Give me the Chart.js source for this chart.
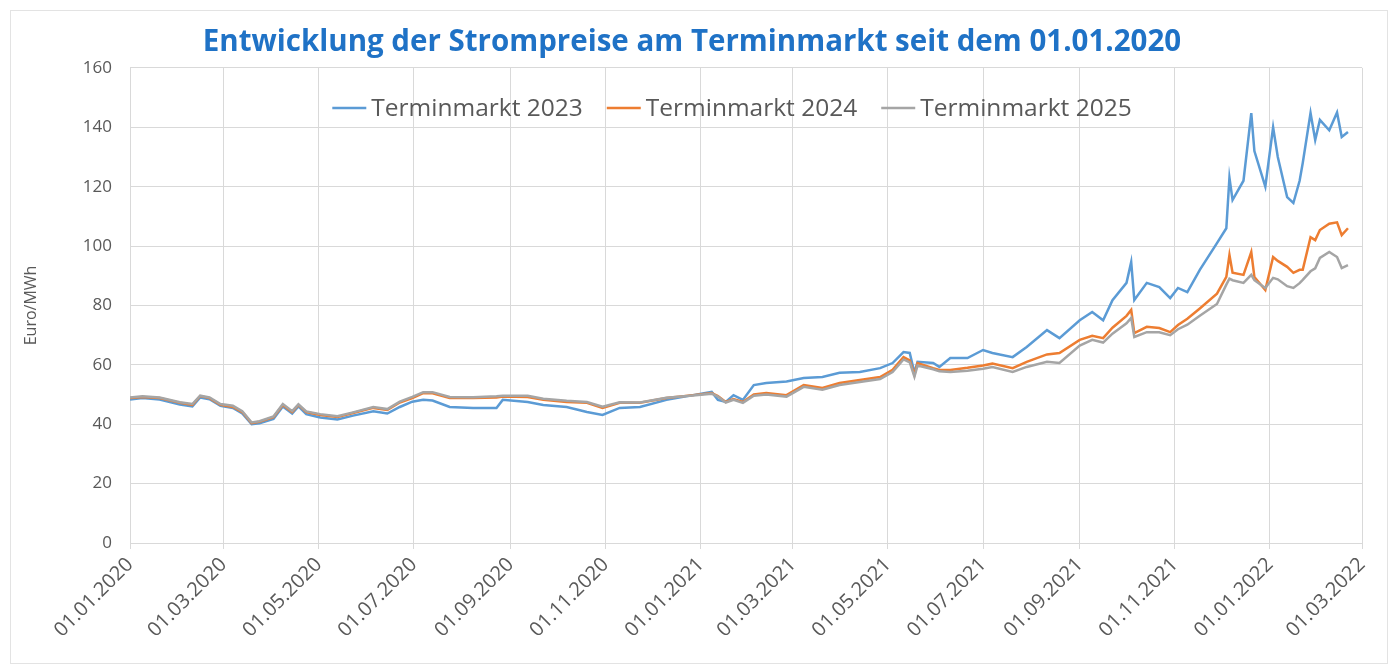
<!DOCTYPE html>
<html lang="de">
<head>
<meta charset="utf-8">
<title>Entwicklung der Strompreise am Terminmarkt</title>
<script src="https://cdn.jsdelivr.net/npm/chart.js@4/dist/chart.umd.min.js"></script>
<style>
  html, body { margin: 0; padding: 0; background: #fff; }
  canvas { display: block; }
</style>
</head>
<body>
<canvas id="chart" width="1398" height="669"></canvas>
<script>
// Handelstage und Preise in Euro/MWh
const dates = [
  '2020-01-01','2020-01-09','2020-01-20','2020-02-02','2020-02-10','2020-02-15','2020-02-21','2020-02-28',
  '2020-03-07','2020-03-13','2020-03-19','2020-03-24','2020-04-02','2020-04-08','2020-04-14','2020-04-18','2020-04-23',
  '2020-05-02','2020-05-13','2020-05-23','2020-06-05','2020-06-14','2020-06-22','2020-06-30',
  '2020-07-07','2020-07-13','2020-07-24','2020-08-08','2020-08-23','2020-08-27','2020-09-12','2020-09-22',
  '2020-10-07','2020-10-20','2020-10-30','2020-11-10','2020-11-23','2020-12-10','2020-12-27',
  '2021-01-08','2021-01-12','2021-01-17','2021-01-22','2021-01-28','2021-02-04','2021-02-12','2021-02-25',
  '2021-03-08','2021-03-20','2021-03-31','2021-04-13','2021-04-26','2021-05-04','2021-05-11','2021-05-15','2021-05-18','2021-05-20','2021-05-30',
  '2021-06-03','2021-06-10','2021-06-21','2021-07-01','2021-07-07','2021-07-20','2021-07-29','2021-08-11','2021-08-19',
  '2021-09-01','2021-09-09','2021-09-16','2021-09-22','2021-10-01','2021-10-04','2021-10-06','2021-10-14','2021-10-22','2021-10-29',
  '2021-11-03','2021-11-09','2021-11-17','2021-11-28','2021-12-04','2021-12-06','2021-12-08','2021-12-15','2021-12-20','2021-12-22','2021-12-29',
  '2022-01-03','2022-01-06','2022-01-12','2022-01-16','2022-01-20','2022-01-22','2022-01-27','2022-01-30','2022-02-02','2022-02-08','2022-02-13','2022-02-16','2022-02-20'
];

const termin2023 = [
  48.3,48.8,48.3,46.6,46.0,49.0,48.4,46.2,
  45.5,43.6,40.0,40.3,41.8,46.0,43.6,46.0,43.4,
  42.3,41.6,42.9,44.4,43.6,45.8,47.6,
  48.2,48.0,45.8,45.5,45.5,48.2,47.5,46.5,
  45.8,44.1,43.1,45.5,45.8,48.2,49.8,
  50.9,48.2,47.5,49.8,48.2,53.2,53.9,54.4,
  55.6,55.9,57.3,57.6,58.9,60.6,64.3,64.0,57.3,61.0,60.6,
  59.3,62.3,62.3,65.0,64.0,62.6,66.0,71.7,69.0,
  75.0,77.8,75.0,81.8,87.6,94.6,81.8,87.6,86.2,82.5,
  85.9,84.5,92.0,101.0,106.0,123.0,115.5,122.0,144.8,132.0,120.0,
  140.0,130.0,116.5,114.5,122.0,128.0,144.8,135.7,142.5,139.0,145.0,136.7,138.4
];

const termin2024 = [
  48.8,49.2,48.8,47.2,46.5,49.5,48.8,46.5,
  45.8,44.1,40.4,40.8,42.4,46.5,44.1,46.5,44.1,
  43.1,42.4,43.8,45.5,44.8,47.3,48.8,
  50.5,50.4,48.8,48.8,49.0,49.3,49.2,48.2,
  47.5,47.2,45.5,47.2,47.2,48.8,49.8,
  50.5,49.5,47.5,48.5,47.5,50.0,50.5,49.8,
  53.2,52.2,53.9,54.9,55.9,58.3,62.6,61.5,56.6,60.6,58.9,
  58.3,58.3,59.0,59.8,60.4,58.9,61.0,63.5,64.0,
  68.4,69.8,69.0,72.5,76.5,78.5,70.7,72.8,72.4,71.0,
  73.4,75.5,79.0,84.0,89.6,97.0,91.0,90.3,98.0,89.6,85.2,
  96.3,95.0,93.0,91.0,92.0,92.0,103.0,102.0,105.4,107.5,108.0,103.7,106.0
];

const termin2025 = [
  49.0,49.4,49.0,47.4,46.8,49.6,49.0,46.8,
  46.2,44.4,40.6,41.0,42.6,46.8,44.4,46.7,44.3,
  43.4,42.7,44.0,45.8,45.1,47.6,49.2,
  50.8,50.8,49.2,49.1,49.4,49.6,49.6,48.6,
  47.9,47.5,45.9,47.4,47.3,48.9,49.7,
  50.3,49.3,47.3,48.2,47.2,49.6,50.0,49.3,
  52.6,51.6,53.2,54.2,55.2,57.6,61.8,60.8,56.0,59.8,58.5,
  57.8,57.6,58.0,58.7,59.3,57.6,59.3,61.0,60.6,
  66.5,68.4,67.5,70.5,74.0,75.8,69.4,71.0,71.0,70.0,
  72.0,73.5,76.5,80.5,87.0,89.0,88.5,87.6,90.3,88.5,85.9,
  89.3,88.8,86.5,85.9,87.5,88.6,91.5,92.5,96.0,98.0,96.3,92.6,93.6
];

// Achsenbeschriftung x: alle zwei Monate
const monthTicks = [
  '2020-01-01','2020-03-01','2020-05-01','2020-07-01','2020-09-01','2020-11-01',
  '2021-01-01','2021-03-01','2021-05-01','2021-07-01','2021-09-01','2021-11-01',
  '2022-01-01','2022-03-01'
];
const yTicks = [0, 20, 40, 60, 80, 100, 120, 140, 160];

const START = Date.UTC(2020, 0, 1);
const dayOf = (s) => {
  const [y, m, d] = s.split('-').map(Number);
  return (Date.UTC(y, m - 1, d) - START) / 86400000;
};
const fmtDay = (n) => {
  const dt = new Date(START + n * 86400000);
  const dd = String(dt.getUTCDate()).padStart(2, '0');
  const mm = String(dt.getUTCMonth() + 1).padStart(2, '0');
  return dd + '.' + mm + '.' + dt.getUTCFullYear();
};
const toPoints = (vals) => vals.map((v, i) => ({ x: dayOf(dates[i]), y: v }));

const textGrey = '#595959';
const gridGrey = '#d9d9d9';

// weisser Hintergrund + Rahmen wie im Excel-Diagramm
const frame = {
  id: 'frame',
  beforeDraw(chart) {
    const { ctx, width, height } = chart;
    ctx.save();
    ctx.fillStyle = '#fff';
    ctx.fillRect(0, 0, width, height);
    ctx.strokeStyle = '#e3e3e3';
    ctx.lineWidth = 1;
    ctx.strokeRect(10.5, 10.5, width - 21, height - 16);
    ctx.restore();
  }
};

// Legende in einer Zeile innerhalb der Zeichenfläche
const inlineLegend = {
  id: 'inlineLegend',
  afterDatasetsDraw(chart) {
    const { ctx, chartArea } = chart;
    const lineLen = 34, gapText = 5, gapItem = 24;
    ctx.save();
    ctx.font = '24.5px "Open Sans"';
    ctx.textBaseline = 'middle';
    const items = chart.data.datasets.map((ds) => ({
      ds, w: lineLen + gapText + ctx.measureText(ds.label).width
    }));
    const total = items.reduce((s, it) => s + it.w, 0) + gapItem * (items.length - 1);
    let x = 732 - total / 2;
    const y = chartArea.top + 40;
    items.forEach((it) => {
      ctx.strokeStyle = it.ds.borderColor;
      ctx.lineWidth = 2.5;
      ctx.beginPath();
      ctx.moveTo(x, y);
      ctx.lineTo(x + lineLen, y);
      ctx.stroke();
      ctx.fillStyle = textGrey;
      ctx.fillText(it.ds.label, x + lineLen + gapText, y + 1);
      x += it.w + gapItem;
    });
    ctx.restore();
  }
};

new Chart(document.getElementById('chart'), {
  type: 'line',
  data: {
    datasets: [
      { label: 'Terminmarkt 2023', data: toPoints(termin2023), borderColor: '#5b9bd5', order: 3 },
      { label: 'Terminmarkt 2024', data: toPoints(termin2024), borderColor: '#ed7d31', order: 2 },
      { label: 'Terminmarkt 2025', data: toPoints(termin2025), borderColor: '#a5a5a5', order: 1 }
    ]
  },
  options: {
    responsive: false,
    devicePixelRatio: 1,
    animation: false,
    layout: { padding: { top: 14, left: 22, right: 36, bottom: 0 } },
    elements: {
      line: { borderWidth: 2.5, tension: 0 },
      point: { radius: 0 }
    },
    plugins: {
      title: {
        display: true,
        text: 'Entwicklung der Strompreise am Terminmarkt seit dem 01.01.2020',
        color: '#1f72c6',
        font: { family: 'Open Sans', size: 29.5, weight: 'bold' },
        padding: { top: 11, bottom: 7.5 }
      },
      legend: { display: false },
      tooltip: { enabled: false }
    },
    scales: {
      x: {
        type: 'linear',
        min: dayOf(monthTicks[0]),
        max: dayOf(monthTicks[monthTicks.length - 1]),
        afterBuildTicks: (scale) => {
          scale.ticks = monthTicks.map((s) => ({ value: dayOf(s) }));
        },
        afterFit: (scale) => { scale.height = 126; },
        grid: { color: gridGrey, tickLength: 6 },
        border: { color: gridGrey },
        ticks: {
          autoSkip: false,
          minRotation: 45,
          maxRotation: 45,
          color: textGrey,
          padding: 4,
          font: { family: 'Open Sans', size: 20 },
          callback: (v) => fmtDay(v)
        }
      },
      y: {
        min: 0,
        max: 160,
        afterBuildTicks: (scale) => {
          scale.ticks = yTicks.map((v) => ({ value: v }));
        },
        afterFit: (scale) => { scale.width = 108; },
        grid: { color: gridGrey, drawTicks: false },
        border: { display: false },
        title: {
          display: true,
          text: 'Euro/MWh',
          color: textGrey,
          font: { family: 'Open Sans', size: 16 },
          padding: 0
        },
        ticks: {
          color: textGrey,
          padding: 18,
          font: { family: 'Open Sans', size: 17 }
        }
      }
    }
  },
  plugins: [frame, inlineLegend]
});
</script>
</body>
</html>
